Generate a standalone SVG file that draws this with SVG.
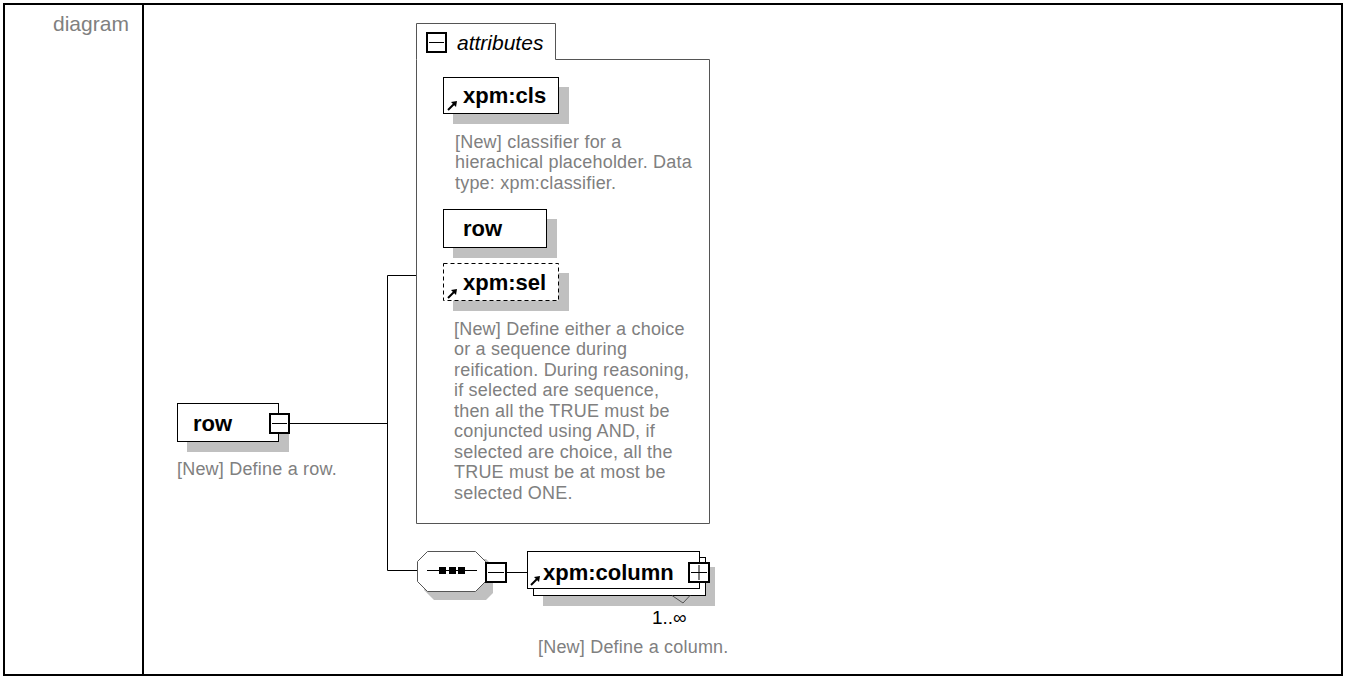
<svg xmlns="http://www.w3.org/2000/svg" width="1345" height="677" viewBox="0 0 1345 677">
<defs>
<style>
.frame{fill:none;stroke:#000;stroke-width:2}
.box{fill:#fff;stroke:#000;stroke-width:1}
.dash{fill:#fff;stroke:#000;stroke-width:1;stroke-dasharray:4,3}
.shadow{fill:#c0c0c0;stroke:none}
.conn{fill:none;stroke:#000;stroke-width:1}
.name{font-family:"Liberation Sans",Arial,sans-serif;font-size:22px;font-weight:bold;fill:#000}
.desc{font-family:"Liberation Sans",Arial,sans-serif;font-size:18px;fill:#808080;letter-spacing:0.2px}
.ital{font-family:"Liberation Sans",Arial,sans-serif;font-size:21px;font-style:italic;fill:#000}
.card{font-family:"Liberation Sans",Arial,sans-serif;font-size:19px;fill:#000}
.sw{fill:#fff;stroke:#000;stroke-width:2}
.sl{stroke:#000;stroke-width:1}
</style>
<g id="refarrow">
<path d="M0,10 L6,4" stroke="#000" stroke-width="2"/>
<path d="M3,2 L9,1 L8,7 Z" fill="#000"/>
</g>
</defs>
<rect class="frame" x="4" y="4" width="1338" height="671"/>
<line x1="143" y1="4" x2="143" y2="675" stroke="#000" stroke-width="2"/>
<text x="53" y="31" font-family="Liberation Sans, Arial, sans-serif" font-size="21" fill="#808080">diagram</text>

<g id="connectors">
<line class="conn" x1="290" y1="423.5" x2="387.5" y2="423.5"/>
<line class="conn" x1="387.5" y1="275.5" x2="387.5" y2="570.5"/>
<line class="conn" x1="387.5" y1="275.5" x2="416" y2="275.5"/>
<line class="conn" x1="387.5" y1="570.5" x2="417" y2="570.5"/>
<line class="conn" x1="507" y1="572.5" x2="527" y2="572.5"/>
</g>

<g id="node-row">
<rect class="shadow" x="187" y="413" width="102" height="39"/>
<rect class="box" x="177.5" y="403.5" width="101" height="38"/>
<text class="name" x="193" y="431">row</text>
<rect class="sw" x="270" y="414" width="19" height="19"/>
<line class="sl" x1="272" y1="423.5" x2="287" y2="423.5"/>
<text class="desc" x="177" y="475">[New] Define a row.</text>
</g>

<g id="node-attributes">
<path d="M416.5,59.5 L416.5,23.5 L555.5,23.5 L555.5,59.5 L709.5,59.5 L709.5,523.5 L416.5,523.5 Z" fill="#fff" stroke="#555" stroke-width="1"/>
<rect class="sw" x="427" y="33" width="19" height="19"/>
<line class="sl" x1="429" y1="42.5" x2="444" y2="42.5"/>
<text class="ital" x="457" y="50">attributes</text>
</g>

<g id="node-xpm-cls">
<rect class="shadow" x="453" y="87" width="116" height="37"/>
<rect class="box" x="443.5" y="77.5" width="115" height="36"/>
<use href="#refarrow" x="448" y="100"/>
<text class="name" x="463" y="103">xpm:cls</text>
<text class="desc"><tspan x="455" y="148">[New] classifier for a</tspan><tspan x="455" y="168">hierachical placeholder. Data</tspan><tspan x="455" y="189">type: xpm:classifier.</tspan></text>
</g>

<g id="node-row-attr">
<rect class="shadow" x="453" y="219" width="104" height="39"/>
<rect class="box" x="443.5" y="209.5" width="103" height="38"/>
<text class="name" x="463" y="236">row</text>
</g>

<g id="node-xpm-sel">
<rect class="shadow" x="453" y="273" width="116" height="38"/>
<rect class="dash" x="443.5" y="263.5" width="115" height="37"/>
<use href="#refarrow" x="448" y="288"/>
<text class="name" x="463" y="290">xpm:sel</text>
<text class="desc"><tspan x="454" y="335">[New] Define either a choice</tspan><tspan x="454" y="355">or a sequence during</tspan><tspan x="454" y="376">reification. During reasoning,</tspan><tspan x="454" y="396">if selected are sequence,</tspan><tspan x="454" y="417">then all the TRUE must be</tspan><tspan x="454" y="437">conjuncted using AND, if</tspan><tspan x="454" y="458">selected are choice, all the</tspan><tspan x="454" y="478">TRUE must be at most be</tspan><tspan x="454" y="499">selected ONE.</tspan></text>
</g>

<g id="node-sequence">
<path class="shadow" d="M434,559 L486,559 L493,566 L493,593 L486,600 L434,600 L424,590 Z"/>
<path d="M427.5,551.5 L475.5,551.5 L485.5,561.5 L485.5,581.5 L475.5,591.5 L427.5,591.5 L417.5,581.5 L417.5,561.5 Z" fill="#fff" stroke="#555" stroke-width="1"/>
<line class="sl" x1="427" y1="570.5" x2="477" y2="570.5"/>
<rect x="439" y="567" width="7" height="7" fill="#000"/>
<rect x="449" y="567" width="7" height="7" fill="#000"/>
<rect x="458" y="567" width="7" height="7" fill="#000"/>
<rect class="sw" x="486" y="563" width="20" height="19"/>
<line class="sl" x1="488" y1="572.5" x2="504" y2="572.5"/>
</g>

<g id="node-xpm-column">
<rect class="shadow" x="543" y="567" width="172" height="39"/>
<rect class="box" x="533.5" y="557.5" width="172" height="38"/>
<path d="M672,595.5 L683,603 L690,595.5" fill="none" stroke="#555" stroke-width="1"/>
<rect class="box" x="527.5" y="551.5" width="172" height="37"/>
<use href="#refarrow" x="531" y="575"/>
<text class="name" x="543" y="580">xpm:column</text>
<rect class="sw" x="689" y="563" width="20" height="19"/>
<line class="sl" x1="691" y1="572.5" x2="707" y2="572.5"/>
<line class="sl" x1="699" y1="565" x2="699" y2="580"/>
<text class="card" x="652" y="624">1..∞</text>
<text class="desc" x="538" y="653">[New] Define a column.</text>
</g>
</svg>
